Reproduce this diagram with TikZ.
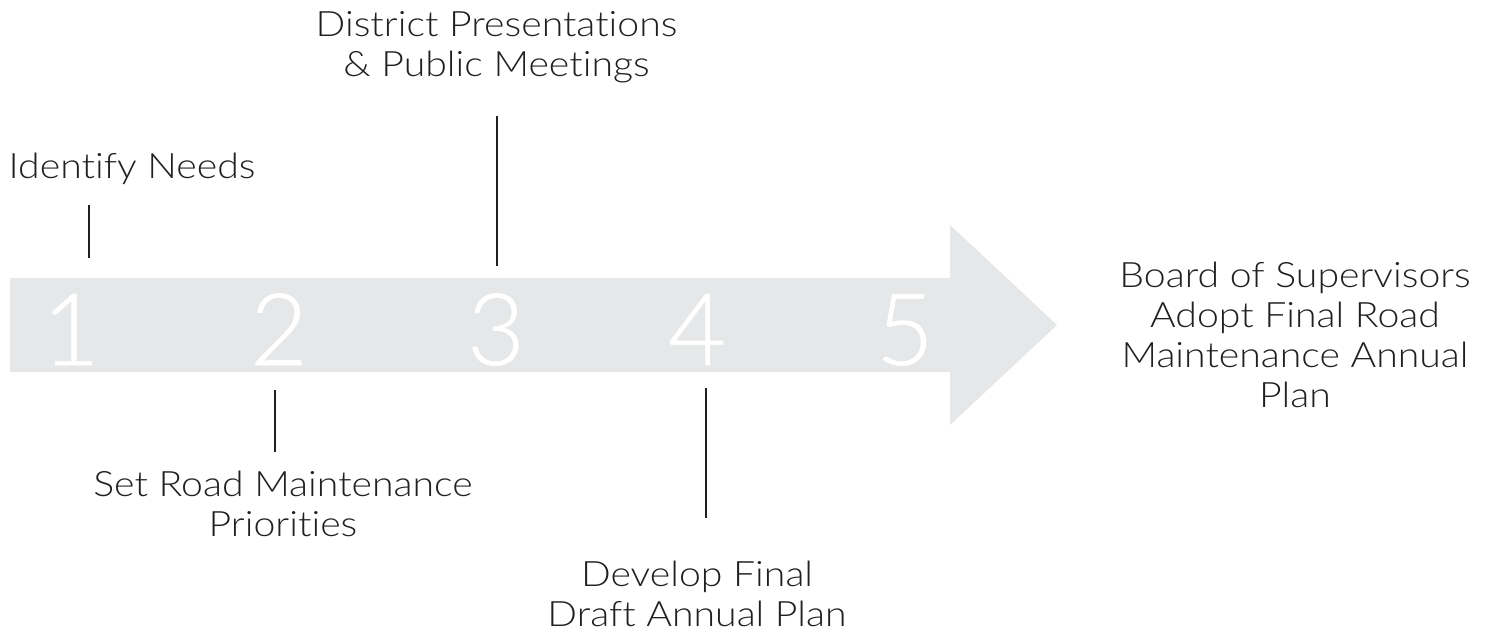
\documentclass[tikz,border=0pt]{standalone}
\usepackage{fontspec}
\newfontfamily\lightfont{Lato Light}[Ligatures=NoCommon, FakeStretch=1.12]
\newfontfamily\digitfont{Lato Light}[FakeBold=0.6]
\definecolor{band}{HTML}{E6E7E8}
\definecolor{ink}{HTML}{231F20}
\tikzset{
  lbl/.style={font=\lightfont\fontsize{35}{40}\selectfont, text=ink, align=center, inner sep=0pt},
  num/.style={font=\digitfont\fontsize{100}{100}\selectfont, text=white, inner sep=0pt, anchor=base},
  tick/.style={draw=ink, line width=2.6pt},
}
\begin{document}
\begin{tikzpicture}[x=1pt,y=-1pt]
\useasboundingbox (0,0) rectangle (1494,633);
% big arrow
\fill[band] (10,278) -- (950,278) -- (950,225) -- (1057,325) -- (950,425) -- (950,372) -- (10,372) -- cycle;
% numbers
\node[num] (n1) at (71,365) {1};
\node[num] (n2) at (279,365) {2};
\node[num] (n3) at (496,365) {3};
\node[num] (n4) at (697,365) {4};
\node[num] (n5) at (905,365) {5};
% labels
\node[lbl, anchor=north] (l3) at (496.5,11) {District Presentations\\\& Public Meetings};
\node[lbl, anchor=north] (l1) at (132,153) {Identify Needs};
\node[lbl, anchor=north] (l2) at (283,471) {Set Road Maintenance\\Priorities};
\node[lbl, anchor=north] (l4) at (697,561) {Develop Final\\Draft Annual Plan};
\node[lbl, anchor=north] (l5) at (1295,262) {Board of Supervisors\\Adopt Final Road\\Maintenance Annual\\Plan};
% tick lines
\coordinate (t1a) at (89,205); \coordinate (t1b) at (89,258);
\coordinate (t2a) at (275,390); \coordinate (t2b) at (275,452);
\coordinate (t3a) at (497,116); \coordinate (t3b) at (497,266);
\coordinate (t4a) at (706,388); \coordinate (t4b) at (706,518);
\draw[tick] (t1a) -- (t1b);
\draw[tick] (t2a) -- (t2b);
\draw[tick] (t3a) -- (t3b);
\draw[tick] (t4a) -- (t4b);
\end{tikzpicture}
\end{document}
